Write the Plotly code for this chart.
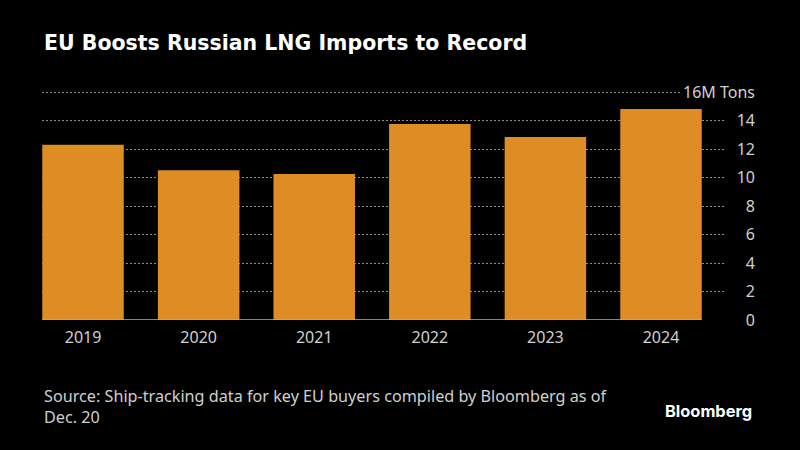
import plotly.graph_objects as go

years = ["2019", "2020", "2021", "2022", "2023", "2024"]
imports_mt = [12.3, 10.5, 10.25, 13.75, 12.85, 14.8]
y_ticks = [0, 2, 4, 6, 8, 10, 12, 14, 16]
y_labels = ["0", "2", "4", "6", "8", "10", "12", "14", "16M Tons"]

title = "EU Boosts Russian LNG Imports to Record"
source = "Source: Ship-tracking data for key EU buyers compiled by Bloomberg as of<br>Dec. 20"
TEXT = "#d0d0d0"
FONT = "Noto Sans"

W, H = 800, 450
fig = go.Figure(go.Bar(x=list(range(len(years))), y=imports_mt,
                       marker=dict(color="#DE8C24", line_width=0), width=0.705))
fig.update_layout(
    width=W, height=H, margin=dict(l=0, r=0, t=0, b=0),
    paper_bgcolor="black", plot_bgcolor="black", showlegend=False,
    font=dict(family=FONT, color=TEXT, size=16),
    xaxis=dict(domain=[42 / W, 724 / W], range=[-0.355, 5.545], tickmode="array", automargin=False,
               tickvals=list(range(len(years))), ticktext=years, showgrid=False,
               zeroline=False, ticks="", ticklabelstandoff=6, tickfont=dict(size=16, color=TEXT)),
    yaxis=dict(domain=[1 - 320 / H, 1 - 89.15 / H], range=[0, 16.2], tickmode="array", automargin=False,
               tickvals=y_ticks, ticktext=y_labels, side="left", anchor="free",
               position=755 / W, showgrid=True, gridcolor="#909090", griddash="2px,2px",
               gridwidth=1, zeroline=False, ticks="", showline=False,
               tickfont=dict(size=16, color=TEXT)),
    shapes=[
        dict(type="rect", xref="x", yref="y", x0=5.164, x1=5.545, y0=15.8, y1=16.2,
             fillcolor="black", line_width=0, layer="between"),
        dict(type="line", xref="x", yref="y", x0=-0.355, x1=5.353, y0=0, y1=0,
             line=dict(color="#b0b0b0", width=1.5), layer="above"),
    ],
    annotations=[
        dict(text=title, xref="paper", yref="paper", x=42 / W, y=1 - 43 / H, xanchor="left",
             yanchor="middle", showarrow=False, align="left",
             font=dict(family="DejaVu Sans", size=20.5, color="white", weight="bold")),
        dict(text=source, xref="paper", yref="paper", x=42 / W, y=1 - 406 / H, xanchor="left",
             yanchor="middle", showarrow=False, align="left",
             font=dict(family=FONT, size=16.2, color=TEXT)),
        dict(text="Bloomberg", xref="paper", yref="paper", x=708 / W, y=1 - 411 / H, xanchor="center",
             yanchor="middle", showarrow=False,
             font=dict(family="Inter", size=16.4, color="white", weight="bold")),
    ],
)
fig.write_html("out.html", config={"displayModeBar": False},
               post_script="document.body.style.margin='0';document.body.style.background='black';document.documentElement.style.overflow='hidden';")
